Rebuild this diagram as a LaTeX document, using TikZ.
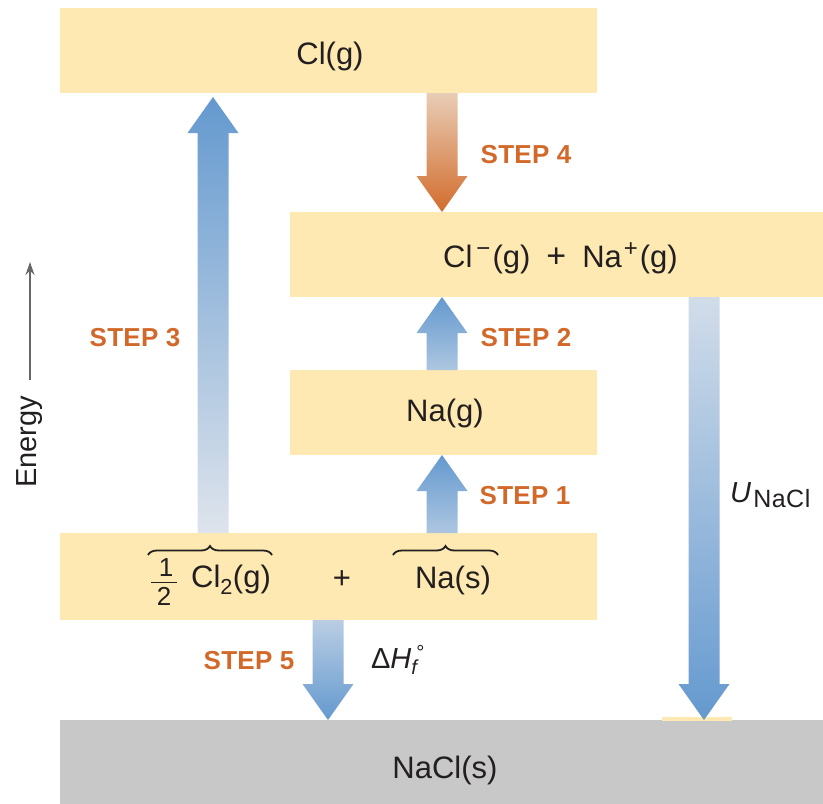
\documentclass[tikz,border=0pt]{standalone}
\usepackage{fontspec}
\setmainfont{Liberation Sans}
\usetikzlibrary{decorations.pathreplacing,calc,arrows.meta}
\definecolor{boxy}{HTML}{FDE9B1}
\definecolor{boxg}{HTML}{C8C8C8}
\definecolor{steporange}{HTML}{D2692B}
\definecolor{bdark}{HTML}{6499CF}
\definecolor{blight}{HTML}{DEE4EC}
\definecolor{odark}{HTML}{D26C2C}
\definecolor{olight}{HTML}{E8CDB6}
\definecolor{txtc}{HTML}{231F20}
% block arrows: #1 tail coordinate, #2 tip coordinate, #3 tip colour, #4 tail colour
\newcommand\blkup[4]{%
  \shade[top color=#3,bottom color=#4] let \p1=(#1),\p2=(#2) in
  (\x1-15.5pt,\y1) -- (\x1+15.5pt,\y1) -- (\x1+15.5pt,\y2-36pt) -- (\x1+25.5pt,\y2-36pt)
  -- (\x1,\y2) -- (\x1-25.5pt,\y2-36pt) -- (\x1-15.5pt,\y2-36pt) -- cycle;}
\newcommand\blkdown[4]{%
  \shade[top color=#4,bottom color=#3] let \p1=(#1),\p2=(#2) in
  (\x1-15.5pt,\y1) -- (\x1+15.5pt,\y1) -- (\x1+15.5pt,\y2+36pt) -- (\x1+25.5pt,\y2+36pt)
  -- (\x1,\y2) -- (\x1-25.5pt,\y2+36pt) -- (\x1-15.5pt,\y2+36pt) -- cycle;}
\newcommand\supsm[1]{\raisebox{11pt}{\fontsize{24}{26}\selectfont #1}}
\tikzset{
  lvl/.style={fill=boxy,draw=none,inner sep=0pt},
  gnd/.style={fill=boxg,draw=none,inner sep=0pt},
  chem/.style={inner sep=0pt,font=\fontsize{31}{34}\selectfont,text=txtc},
  frac/.style={inner sep=0pt,font=\fontsize{26}{28}\selectfont,text=txtc},
  steplbl/.style={inner sep=0pt,font=\fontsize{26}{28}\selectfont\bfseries\addfontfeature{LetterSpace=1},text=steporange},
  qty/.style={inner sep=0pt,font=\fontsize{29}{32}\selectfont,text=txtc},
  obrace/.style={decorate,decoration={brace,amplitude=9pt,aspect=0.5},line width=1.8pt,draw=txtc}
}
\begin{document}
\begin{tikzpicture}[x=1pt,y=-1pt]
\useasboundingbox (0,0) rectangle (823,804);
% levels
\node[lvl,minimum width=537pt,minimum height=85pt] (clg) at (328.5,50.5) {};
\node[lvl,minimum width=533pt,minimum height=85pt] (ions) at (556.5,254.5) {};
\node[lvl,minimum width=307pt,minimum height=85pt] (nag) at (443.5,412.5) {};
\node[lvl,minimum width=537pt,minimum height=87pt] (reac) at (328.5,576.5) {};
\node[gnd,minimum width=763pt,minimum height=84pt] (nacl) at (441.5,762) {};
\fill[boxy] (662,717) rectangle (732,721);
% level texts
\node[chem] (tclg) at (330,56) {Cl(g)};
\node[chem] (tions) at (560.5,258) {Cl\hspace{4pt}\supsm{\char"2212}\hspace{2pt}(g)\hspace{16pt}\fontsize{34}{34}\selectfont+\fontsize{31}{34}\selectfont\hspace{16pt}Na\hspace{2pt}\supsm{+}\hspace{2pt}(g)};
\node[chem] (tnag) at (445,413) {Na(g)};
\node[chem] (tnacl) at (445,770) {NaCl(s)};
% reactants
\node[frac] (one) at (166,568) {1};
\node[frac] (two) at (164,596) {2};
\draw[line width=1.3pt,txtc] (151,582.5) -- (177,582.5);
\node[chem] (cl2) at (231,580) {Cl\textsubscript{2}(g)};
\node[chem] (plus) at (342,580) {+};
\node[chem] (nas) at (453,580) {Na(s)};
\draw[obrace] (148,555) -- (272,555);
\draw[obrace] (393,555) -- (498,555);
% arrows
\coordinate (s3a) at (213,533); \coordinate (s3b) at (213,97);
\coordinate (s4a) at (442,93);  \coordinate (s4b) at (442,212);
\coordinate (s2a) at (442,370); \coordinate (s2b) at (442,297);
\coordinate (s1a) at (442,533); \coordinate (s1b) at (442,455);
\coordinate (s5a) at (328,620); \coordinate (s5b) at (328,720);
\coordinate (ua) at (704,297);  \coordinate (ub) at (704,720);
\blkup{s3a}{s3b}{bdark}{blight}
\blkdown{s4a}{s4b}{odark}{olight}
\blkup{s2a}{s2b}{bdark}{blight!60!bdark}
\blkup{s1a}{s1b}{bdark}{blight!60!bdark}
\blkdown{s5a}{s5b}{bdark}{blight!70!bdark}
\blkdown{ua}{ub}{bdark}{blight!90!bdark}
% step labels
\node[steplbl] (l4) at (526,155) {STEP 4};
\node[steplbl] (l2) at (526,338) {STEP 2};
\node[steplbl] (l1) at (525,496) {STEP 1};
\node[steplbl] (l3) at (135,338) {STEP 3};
\node[steplbl] (l5) at (249,661) {STEP 5};
% quantities
\node[qty] (dh) at (398,660) {\char"0394\textit{H}\textsubscript{\textit{f}}\hspace{-3pt}\textsuperscript{\char"00B0}};
\node[qty,anchor=west] (u) at (730,495) {\textit{U}\hspace{2pt}{\fontsize{25}{27}\selectfont\addfontfeature{LetterSpace=2}\raisebox{-5pt}{NaCl}}};
% energy axis
\node[inner sep=0pt,rotate=90,font=\fontsize{29}{31}\selectfont,text=txtc] (energy) at (30,442) {Energy};
\coordinate (eax) at (30,262);
\draw[line width=1.3pt,draw=black!60,-{Stealth[length=13pt,width=9pt]}] ($(energy.east)+(0,-16)$) -- (eax);
\end{tikzpicture}
\end{document}
